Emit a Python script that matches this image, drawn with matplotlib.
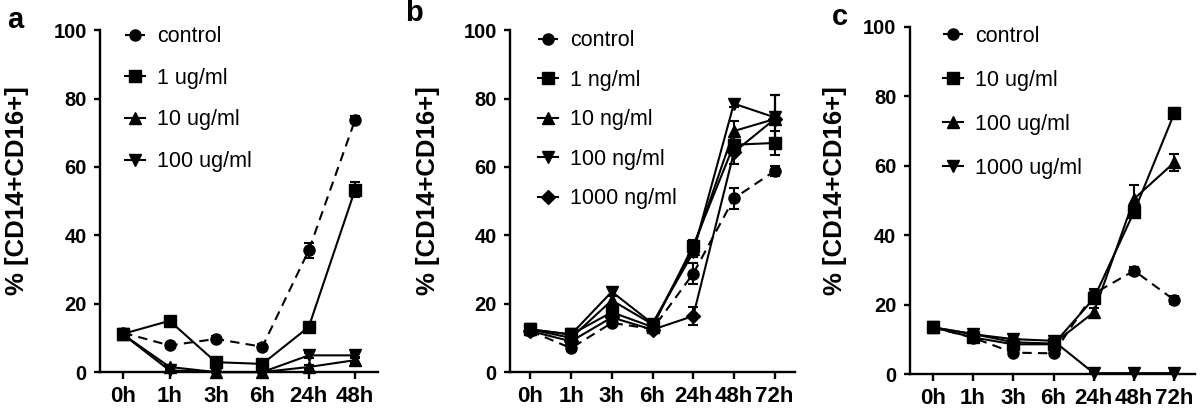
import numpy as np
import matplotlib.pyplot as plt

plt.rcParams['font.family'] = ['Liberation Sans', 'DejaVu Sans']

# ------------------------- data -------------------------
times_a = ['0h', '1h', '3h', '6h', '24h', '48h']
times_bc = ['0h', '1h', '3h', '6h', '24h', '48h', '72h']

# panel a
labels_a = ['control', '1 ug/ml', '10 ug/ml', '100 ug/ml']
a_control = [11.5, 7.8, 9.7, 7.4, 35.6, 73.8]
a_control_err = [0.8, 0.8, 0.8, 0.8, 2.2, 1.0]
a_1ug = [11.2, 15.0, 2.9, 2.4, 13.2, 53.4]
a_1ug_err = [0.8, 0.8, 0.6, 0.6, 1.0, 2.2]
a_10ug = [11.0, 1.5, 0.0, 0.0, 1.5, 3.5]
a_10ug_err = [0.5, 0.5, 0.2, 0.2, 0.5, 0.8]
a_100ug = [11.0, 0.5, 0.0, 0.0, 4.9, 4.9]
a_100ug_err = [0.5, 0.3, 0.2, 0.2, 0.8, 0.8]

# panel b
labels_b = ['control', '1 ng/ml', '10 ng/ml', '100 ng/ml', '1000 ng/ml']
b_control = [12.0, 7.0, 14.4, 12.6, 28.8, 50.8, 58.8]
b_control_err = [0.8, 0.8, 0.8, 0.6, 3.0, 3.0, 1.5]
b_1ng = [12.5, 11.0, 17.5, 13.2, 37.0, 66.5, 67.0]
b_1ng_err = [0.8, 0.8, 1.0, 0.8, 1.5, 1.5, 3.5]
b_10ng = [12.5, 10.0, 21.0, 14.0, 36.0, 70.5, 74.0]
b_10ng_err = [0.8, 0.8, 1.2, 0.8, 1.5, 3.0, 7.0]
b_100ng = [12.5, 11.0, 23.5, 14.2, 35.0, 78.5, 74.5]
b_100ng_err = [0.8, 0.8, 1.2, 0.8, 1.2, 1.0, 6.5]
b_1000ng = [12.0, 9.0, 16.0, 12.4, 16.4, 64.3, 74.0]
b_1000ng_err = [0.8, 0.8, 1.0, 0.6, 2.5, 3.5, 7.0]

# panel c
labels_c = ['control', '10 ug/ml', '100 ug/ml', '1000 ug/ml']
c_control = [13.5, 10.5, 6.2, 6.0, 23.2, 29.8, 21.3]
c_control_err = [0.8, 0.8, 0.8, 0.8, 1.2, 1.2, 1.2]
c_10ug = [13.5, 10.6, 8.6, 8.6, 21.8, 46.8, 75.2]
c_10ug_err = [0.8, 0.8, 0.8, 0.8, 1.2, 1.5, 1.5]
c_100ug = [13.5, 11.6, 9.2, 8.8, 17.8, 50.5, 61.0]
c_100ug_err = [0.8, 0.8, 0.8, 0.8, 1.2, 4.0, 2.5]
c_1000ug = [13.5, 11.5, 10.1, 9.6, 0.3, 0.3, 0.3]
c_1000ug_err = [0.8, 0.8, 1.0, 0.8, 0.2, 0.2, 0.2]

markers = ['o', 's', '^', 'v', 'D']
msizes = [8, 8, 8, 8, 7]


def draw_panel(ax, times, series, errs, labels, xmin, ylab_x, leg_anchor, leg_space):
    x = np.arange(len(times))
    handles = []
    for i in range(len(series)):
        ls = (0, (4.5, 3)) if i == 0 else '-'
        h = ax.errorbar(x, series[i], yerr=errs[i], color='black', marker=markers[i],
                        ms=msizes[i], lw=1.5, ls=ls, capsize=3.5, elinewidth=1.5,
                        capthick=1.5, clip_on=False, zorder=3)
        h[0].set_clip_on(False)
        handles.append(h[0])

    ax.set_ylim(0, 100)
    ax.set_xlim(xmin, len(times) - 0.5)
    ax.set_yticks([0, 20, 40, 60, 80, 100])
    ax.set_xticks(x)
    ax.set_xticklabels(times)
    ax.spines['top'].set_visible(False)
    ax.spines['right'].set_visible(False)
    ax.spines['left'].set_linewidth(1.7)
    ax.spines['bottom'].set_linewidth(1.7)
    ax.tick_params(width=1.7)
    ax.tick_params(axis='y', length=4, pad=5.5, labelsize=14.5)
    ax.tick_params(axis='x', length=5, pad=5, labelsize=16)
    for t in ax.get_xticklabels() + ax.get_yticklabels():
        t.set_fontweight('bold')
    ax.set_ylabel('% [CD14+CD16+]', fontsize=18.5, fontweight='bold')
    ax.yaxis.set_label_coords(ylab_x, 0.53)

    ax.legend(handles, labels, loc='upper left', bbox_to_anchor=leg_anchor,
              frameon=False, fontsize=15.5, handlelength=0.95, handletextpad=0.55,
              labelspacing=leg_space, borderpad=0, borderaxespad=0)


fig = plt.figure(figsize=(12, 4.13), dpi=100)
ax_a = fig.add_axes([0.0833, 0.099, 0.232, 0.828])
ax_b = fig.add_axes([0.425, 0.099, 0.2375, 0.828])
ax_c = fig.add_axes([0.758, 0.094, 0.2375, 0.841])

draw_panel(ax_a, times_a, [a_control, a_1ug, a_10ug, a_100ug],
           [a_control_err, a_1ug_err, a_10ug_err, a_100ug_err], labels_a,
           -0.5, -0.255, (0.09, 1.012), 0.96)
draw_panel(ax_b, times_bc, [b_control, b_1ng, b_10ng, b_100ng, b_1000ng],
           [b_control_err, b_1ng_err, b_10ng_err, b_100ng_err, b_1000ng_err], labels_b,
           -0.5, -0.245, (0.098, 1.0), 0.86)
draw_panel(ax_c, times_bc, [c_control, c_10ug, c_100ug, c_1000ug],
           [c_control_err, c_10ug_err, c_100ug_err, c_1000ug_err], labels_c,
           -0.57, -0.218, (0.116, 1.003), 1.07)

# panel letters
fig.text(0.006, 0.932, 'a', fontsize=21, fontweight='bold', va='baseline')
fig.text(0.3375, 0.949, 'b', fontsize=21, fontweight='bold', va='baseline')
fig.text(0.693, 0.939, 'c', fontsize=21, fontweight='bold', va='baseline')

fig.savefig('out.png', dpi=100)
